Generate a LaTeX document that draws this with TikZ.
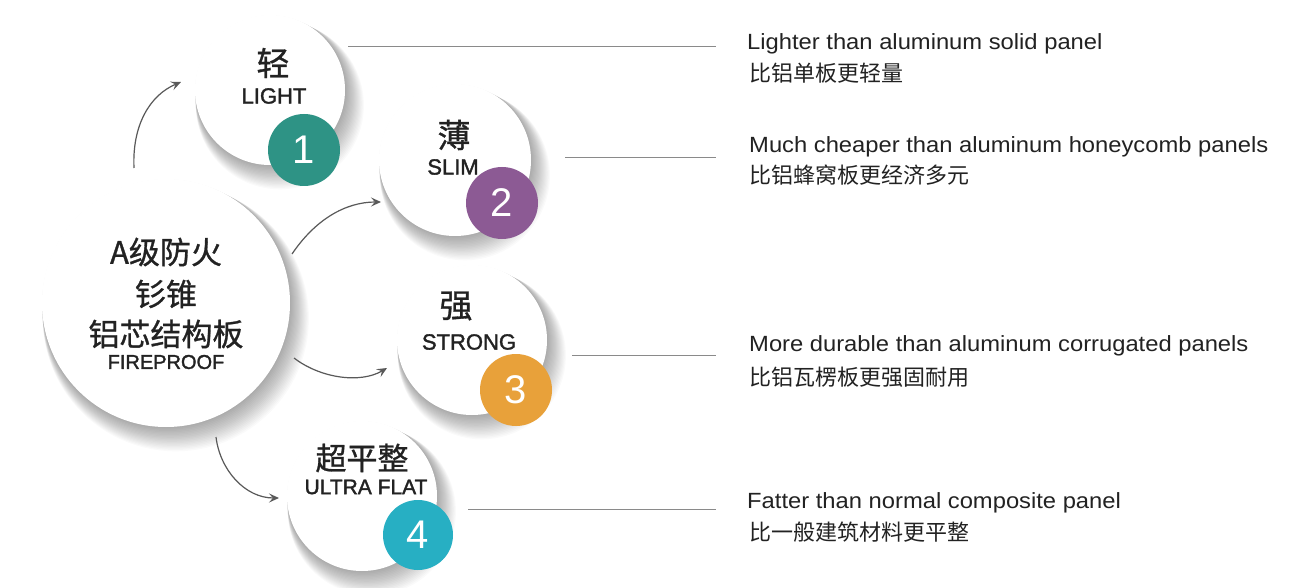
\documentclass[tikz,border=0pt]{standalone}
\usepackage{fontspec}
\setmainfont{Liberation Sans}
\newfontfamily\enwide[FakeStretch=1.08]{Liberation Sans}
\newfontfamily\ensemi[FakeBold=1.6]{Liberation Sans}
\newfontfamily\cjk{Noto Sans CJK SC}
\newfontfamily\cjkb[FakeBold=0.9]{Noto Sans CJK SC}
\usetikzlibrary{arrows.meta}
\definecolor{cteal}{HTML}{2E9385}
\definecolor{cpurple}{HTML}{8C5A94}
\definecolor{corange}{HTML}{E8A13A}
\definecolor{ccyan}{HTML}{27AFC3}
\definecolor{lgray}{HTML}{8A8A8A}
\definecolor{tgray}{HTML}{222222}
\tikzset{
  bubble/.style={circle, fill=white, inner sep=0pt, minimum size=#1},
  badge/.style={circle, inner sep=0pt, minimum size=72pt, text=white, font=\fontsize{40}{40}\selectfont},
  leader/.style={draw=lgray, line width=1pt},
  curvearrow/.style={draw=black!65, line width=1.2pt, -{Stealth[length=10pt,width=9pt,inset=4pt]}},
  bigcn/.style={inner sep=0pt, font=\cjkb\fontsize{31}{31}\selectfont, text=tgray},
  subcn/.style={inner sep=0pt, font=\cjkb\fontsize{33}{33}\selectfont, text=tgray},
  suben/.style={inner sep=0pt, font=\ensemi\fontsize{22}{22}\selectfont, text=tgray},
  entext/.style={anchor=west, inner sep=0pt, text=tgray, font=\enwide\fontsize{22}{22}\selectfont},
  cntext/.style={anchor=west, inner sep=0pt, text=tgray, font=\cjk\fontsize{22}{22}\selectfont},
}
\newcommand{\softshadow}[3]{%
  \foreach \i in {1,...,18}{
    \fill[black, opacity=0.02] (#1+\i*0.55, #2+\i*0.85) circle (#3+\i*0.5);
  }
}
\begin{document}
\begin{tikzpicture}[x=1pt, y=-1pt]
\useasboundingbox (0,0) rectangle (1299,588);
\fill[white] (0,0) rectangle (1299,588);
% shadows
\softshadow{166}{303}{124}
\softshadow{270}{90}{75}
\softshadow{455}{160}{76}
\softshadow{472}{340}{75}
\softshadow{362}{496}{75}
% main bubble
\node[bubble=248pt] (main) at (166,303) {};
\node[bigcn] (m1) at (166,252) {A级防火};
\node[bigcn] (m2) at (166,294) {钐锥};
\node[bigcn] (m3) at (166,334) {铝芯结构板};
\node[suben, font=\ensemi\fontsize{20}{20}\selectfont] (m4) at (166,362) {FIREPROOF};
% small bubbles
\node[bubble=150pt] (b1) at (270,90) {};
\node[bubble=152pt] (b2) at (455,160) {};
\node[bubble=150pt] (b3) at (472,340) {};
\node[bubble=150pt] (b4) at (362,496) {};
% labels
\node[subcn] (t1) at (273,63) {轻};
\node[suben] (s1) at (274,96) {LIGHT};
\node[subcn] (t2) at (454,135) {薄};
\node[suben] (s2) at (453,167) {SLIM};
\node[subcn] (t3) at (456,306) {强};
\node[suben] (s3) at (469,342) {STRONG};
\node[bigcn] (t4) at (362,458) {超平整};
\node[suben, font=\ensemi\fontsize{21}{21}\selectfont] (s4) at (366,487) {ULTRA FLAT};
% badges
\node[badge, fill=cteal] (n1) at (304,150) {1};
\node[badge, fill=cpurple] (n2) at (502,203) {2};
\node[badge, fill=corange] (n3) at (516,390) {3};
\node[badge, fill=ccyan, minimum size=70pt] (n4) at (418,535) {4};
% curved arrows
\coordinate (a1s) at (134,168); \coordinate (a1e) at (181,82);
\coordinate (a2s) at (292,254); \coordinate (a2e) at (381,202);
\coordinate (a3s) at (294,358); \coordinate (a3e) at (387,368);
\coordinate (a4s) at (216,437); \coordinate (a4e) at (279,498);
\draw[curvearrow] (a1s) .. controls (132,125) and (150,95) .. (a1e);
\draw[curvearrow] (a2s) .. controls (315,220) and (345,202) .. (a2e);
\draw[curvearrow] (a3s) .. controls (320,378) and (360,384) .. (a3e);
\draw[curvearrow] (a4s) .. controls (220,470) and (245,498) .. (a4e);
% leader lines
\coordinate (l1s) at (348,47); \coordinate (l1e) at (716,47);
\coordinate (l2s) at (565,158); \coordinate (l2e) at (716,158);
\coordinate (l3s) at (572,355); \coordinate (l3e) at (716,355);
\coordinate (l4s) at (468,509); \coordinate (l4e) at (716,509);
\draw[leader] (l1s) -- (l1e);
\draw[leader] (l2s) -- (l2e);
\draw[leader] (l3s) -- (l3e);
\draw[leader] (l4s) -- (l4e);
% descriptions
\node[entext] (e1) at (747,44) {Lighter than aluminum solid panel};
\node[cntext] (c1) at (749,73) {比铝单板更轻量};
\node[entext] (e2) at (749,147) {Much cheaper than aluminum honeycomb panels};
\node[cntext] (c2) at (749,175) {比铝蜂窝板更经济多元};
\node[entext] (e3) at (749,346) {More durable than aluminum corrugated panels};
\node[cntext] (c3) at (749,377) {比铝瓦楞板更强固耐用};
\node[entext] (e4) at (747,503) {Fatter than normal composite panel};
\node[cntext] (c4) at (749,532) {比一般建筑材料更平整};
\end{tikzpicture}
\end{document}
